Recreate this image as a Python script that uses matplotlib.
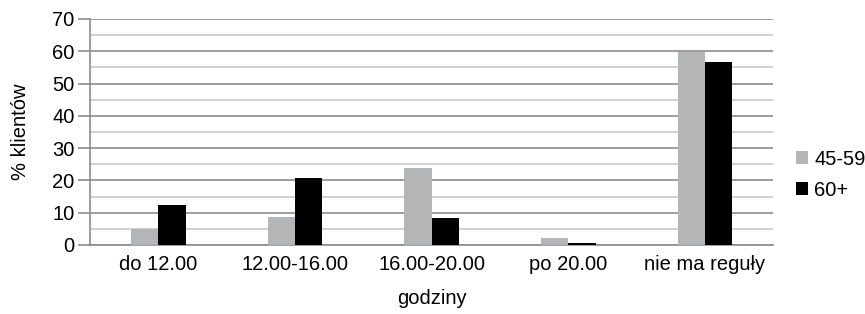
import numpy as np
import matplotlib.pyplot as plt

plt.rcParams['font.family'] = ['Liberation Sans', 'DejaVu Sans']

# ── Dane ───────────────────────────────────────────────────
kategorie = ['do 12.00', '12.00-16.00', '16.00-20.00', 'po 20.00', 'nie ma reguły']
grupa_45_59 = [5, 8.7, 23.8, 2, 59.8]
grupa_60 = [12.5, 20.8, 8.2, 0.7, 56.8]
serie = ['45-59', '60+']

fs = 14.5

# ── Wykres ─────────────────────────────────────────────────
fig = plt.figure(figsize=(8.65, 3.14), dpi=100)
ax = fig.add_axes([0.104, 0.220, 0.790, 0.7195])

x = np.arange(len(kategorie))
w = 0.2
ax.bar(x - w/2, grupa_45_59, w, color='#b3b5b6', label=serie[0], zorder=3)
ax.bar(x + w/2, grupa_60, w, color='#000000', label=serie[1], zorder=3)

ax.set_xlim(-0.5, len(kategorie) - 0.5)
ax.set_ylim(0, 70)
ax.set_yticks(range(0, 71, 10))
ax.set_yticks(range(5, 70, 10), minor=True)
ax.grid(axis='y', which='major', color='#8c8c8c', linewidth=1.2, zorder=0)
ax.grid(axis='y', which='minor', color='#c8c8c8', linewidth=1.2, zorder=0)
ax.tick_params(axis='y', which='major', length=9, width=1.2, color='#8c8c8c',
               labelsize=fs, pad=2)
ax.tick_params(axis='y', which='minor', length=0)
ax.set_xticks(x)
ax.set_xticklabels(kategorie)
ax.tick_params(axis='x', length=0, labelsize=fs, pad=7)

for s in ['top', 'right']:
    ax.spines[s].set_visible(False)
for s in ['left', 'bottom']:
    ax.spines[s].set_color('#8c8c8c')
    ax.spines[s].set_linewidth(1.2)

ax.set_ylabel('% klientów', fontsize=fs, labelpad=16)
ax.set_xlabel('godziny', fontsize=fs, labelpad=11)

ax.legend(loc='center left', bbox_to_anchor=(1.013, 0.31), frameon=False,
          fontsize=fs, handlelength=0.6, handleheight=0.6, handletextpad=0.3,
          labelspacing=0.6, borderpad=0.2)

plt.savefig('out.png', dpi=100)
